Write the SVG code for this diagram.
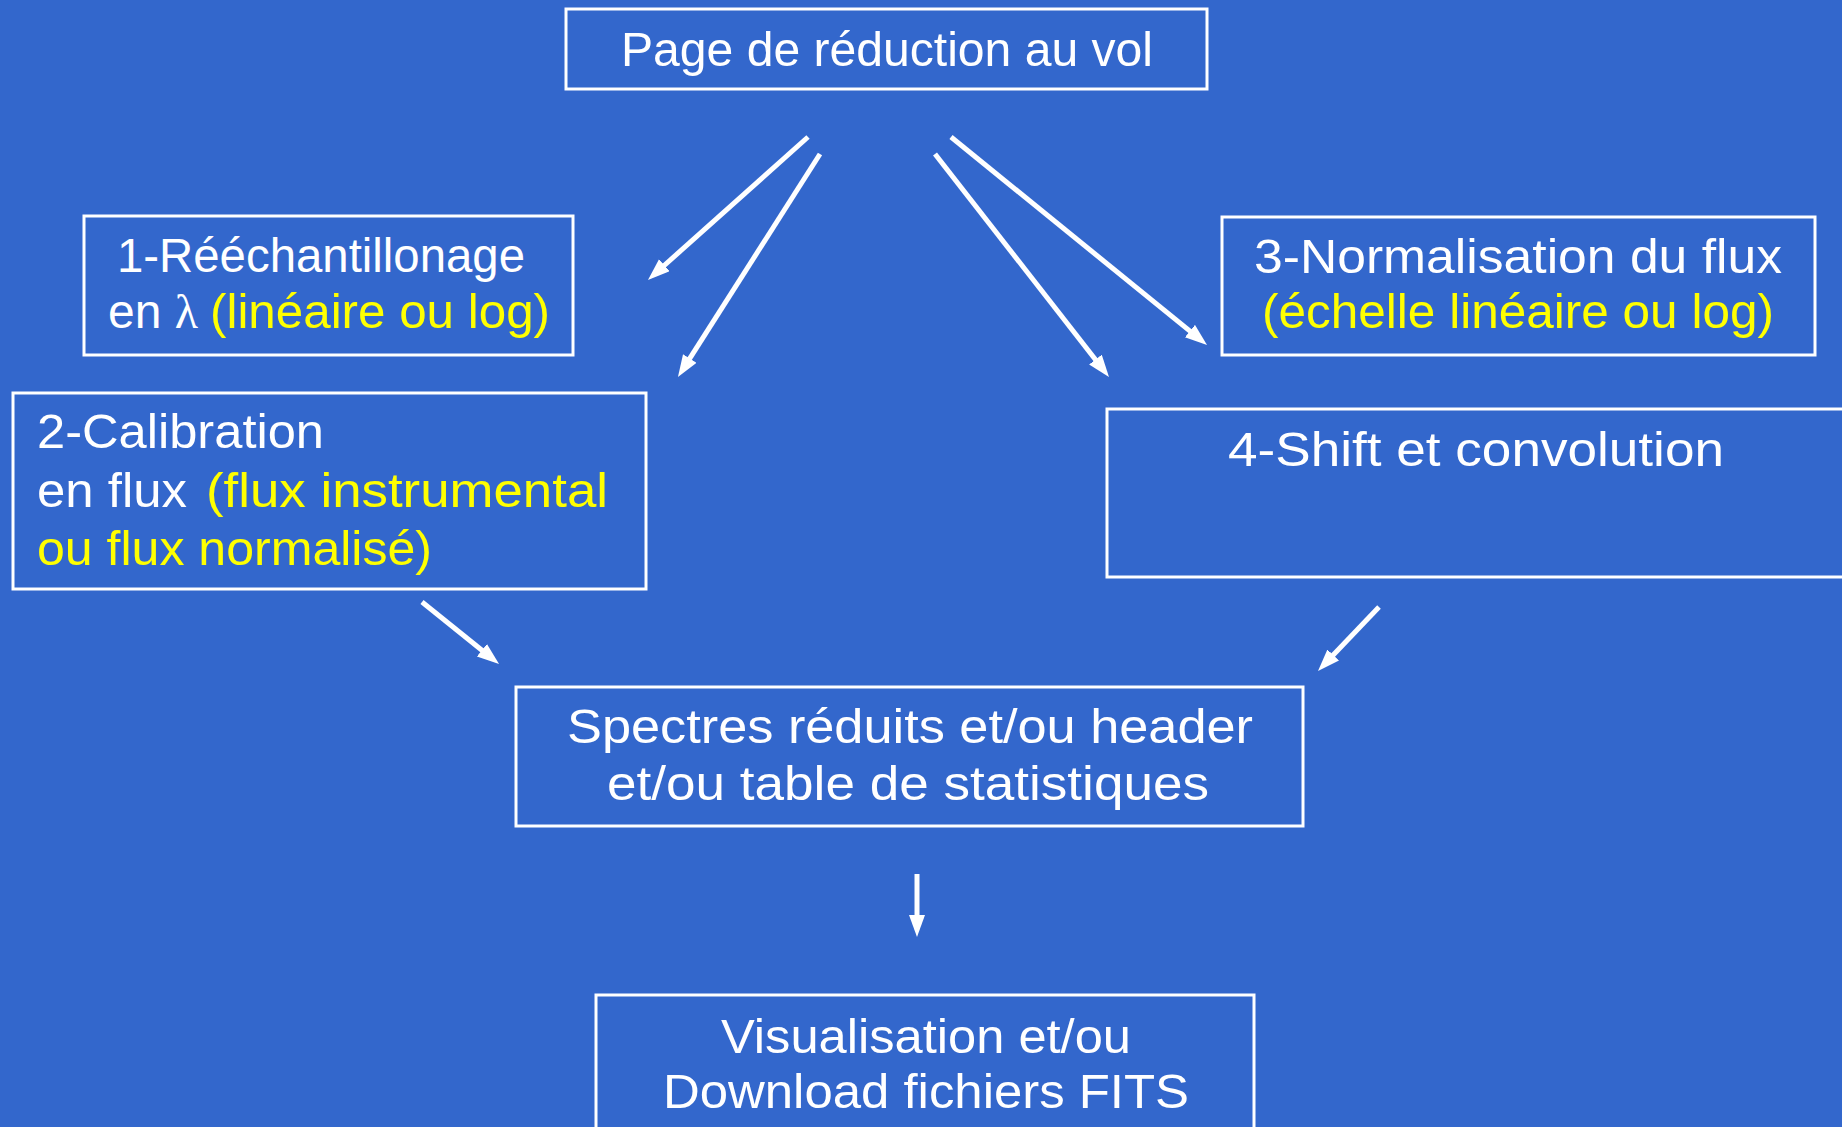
<svg xmlns="http://www.w3.org/2000/svg" width="1842" height="1127" viewBox="0 0 1842 1127">
<style>
.bg{fill:#3367CC}
.box{fill:none;stroke:#ffffff;stroke-width:3}
.t{font-family:"Liberation Sans",Arial,sans-serif;font-size:48px;fill:#ffffff}
.y{fill:#ffff00}
.sym{font-family:"Liberation Serif",serif}
.c{stroke:#ffffff;stroke-width:5;fill:none;marker-end:url(#ah)}
</style>
<defs>
<marker id="ah" markerUnits="userSpaceOnUse" markerWidth="24" markerHeight="18" refX="10" refY="8" orient="auto">
<path d="M0,0 L22,8 L0,16 z" fill="#ffffff"/>
</marker>
</defs>
<rect class="bg" x="0" y="0" width="1842" height="1127"/>

<g id="top">
<rect class="box" x="566" y="9" width="641" height="80"/>
<text class="t" x="621" y="66" textLength="532" lengthAdjust="spacingAndGlyphs">Page de réduction au vol</text>
</g>

<g id="n1">
<rect class="box" x="84" y="216" width="489" height="139"/>
<text class="t" x="117" y="272" textLength="408" lengthAdjust="spacingAndGlyphs">1-Rééchantillonage</text>
<text class="t" x="108" y="328" textLength="90" lengthAdjust="spacingAndGlyphs">en <tspan class="sym">λ</tspan></text>
<text class="t y" x="210" y="328" textLength="340" lengthAdjust="spacingAndGlyphs">(linéaire ou log)</text>
</g>

<g id="n2">
<rect class="box" x="13" y="393" width="633" height="196"/>
<text class="t" x="37" y="448" textLength="287" lengthAdjust="spacingAndGlyphs">2-Calibration</text>
<text class="t" x="37" y="507" textLength="150" lengthAdjust="spacingAndGlyphs">en flux</text>
<text class="t y" x="206" y="507" textLength="402" lengthAdjust="spacingAndGlyphs">(flux instrumental</text>
<text class="t y" x="37" y="565" textLength="395" lengthAdjust="spacingAndGlyphs">ou flux normalisé)</text>
</g>

<g id="n3">
<rect class="box" x="1222" y="217" width="593" height="138"/>
<text class="t" x="1254" y="273" textLength="528" lengthAdjust="spacingAndGlyphs">3-Normalisation du flux</text>
<text class="t y" x="1262" y="328" textLength="512" lengthAdjust="spacingAndGlyphs">(échelle linéaire ou log)</text>
</g>

<g id="n4">
<rect class="box" x="1107" y="409" width="745" height="168"/>
<text class="t" x="1228" y="466" textLength="496" lengthAdjust="spacingAndGlyphs">4-Shift et convolution</text>
</g>

<g id="n5">
<rect class="box" x="516" y="687" width="787" height="139"/>
<text class="t" x="567" y="743" textLength="686" lengthAdjust="spacingAndGlyphs">Spectres réduits et/ou header</text>
<text class="t" x="607" y="800" textLength="602" lengthAdjust="spacingAndGlyphs">et/ou table de statistiques</text>
</g>

<g id="n6">
<rect class="box" x="596" y="995" width="658" height="150"/>
<text class="t" x="721" y="1053" textLength="410" lengthAdjust="spacingAndGlyphs">Visualisation et/ou</text>
<text class="t" x="663" y="1108" textLength="526" lengthAdjust="spacingAndGlyphs">Download fichiers FITS</text>
</g>

<g id="connectors">
<line class="c" x1="808" y1="137" x2="656.9" y2="272"/>
<line class="c" x1="820" y1="154" x2="684.4" y2="366.9"/>
<line class="c" x1="935" y1="154" x2="1101.6" y2="367.5"/>
<line class="c" x1="951" y1="137" x2="1197.7" y2="337.4"/>
<line class="c" x1="422" y1="602" x2="489.7" y2="656.5"/>
<line class="c" x1="1379" y1="607" x2="1326.3" y2="662.3"/>
<line class="c" x1="917" y1="874" x2="917" y2="925"/>
</g>
</svg>
